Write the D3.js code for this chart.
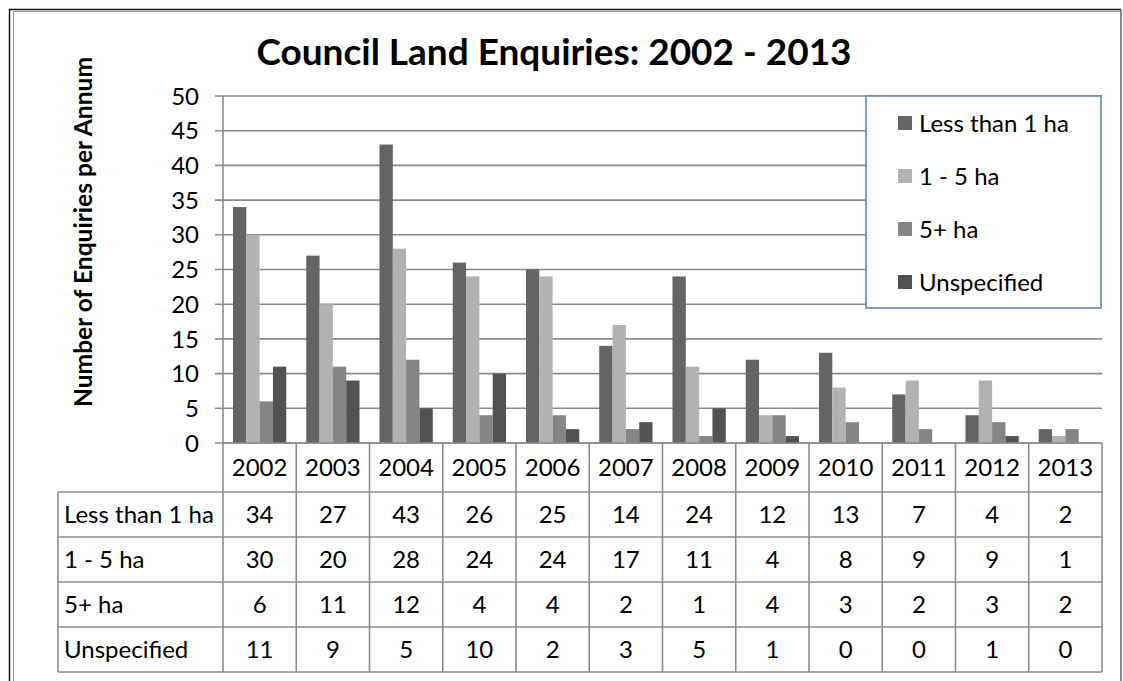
<!DOCTYPE html>
<html>
<head>
<meta charset="utf-8">
<script src="https://cdn.jsdelivr.net/npm/d3@7"></script>
<style>
  html, body { margin: 0; padding: 0; background: #fff; }
  svg { display: block; }
  text { font-family: Lato, "Open Sans", sans-serif; fill: #000; }
</style>
</head>
<body>
<svg id="chart" width="1123" height="681"></svg>
<script>
// Enquiry counts by year and land size
const years = ["2002","2003","2004","2005","2006","2007","2008","2009","2010","2011","2012","2013"];
const seriesNames = ["Less than 1 ha", "1 - 5 ha", "5+ ha", "Unspecified"];
const lessThan1ha = [34, 27, 43, 26, 25, 14, 24, 12, 13, 7, 4, 2];
const oneToFiveHa = [30, 20, 28, 24, 24, 17, 11, 4, 8, 9, 9, 1];
const fivePlusHa  = [6, 11, 12, 4, 4, 2, 1, 4, 3, 2, 3, 2];
const unspecified = [11, 9, 5, 10, 2, 3, 5, 1, 0, 0, 1, 0];
const yTicks = [0, 5, 10, 15, 20, 25, 30, 35, 40, 45, 50];
const seriesColors = ["#646464", "#b2b2b2", "#858585", "#525252"];

const seriesValues = [lessThan1ha, oneToFiveHa, fivePlusHa, unspecified];
const series = seriesNames.map((name, i) => ({ name, values: seriesValues[i], color: seriesColors[i] }));

const svg = d3.select("#chart");
const gridColor = "#8c8c8c";
const fs = "24px";

// Plot geometry
const plot = { left: 223, right: 1102, top: 96, bottom: 443 };
const tableLeft = 58;
const headerBottom = 492;
const rowH = 45;

const x = d3.scaleBand().domain(years).range([plot.left, plot.right]).paddingInner(0).paddingOuter(0);
const bw = x.bandwidth();
const barW = bw / 5.5;            // 150% gap width
const xs = d3.scaleBand().domain(seriesNames).range([barW * 0.75, bw - barW * 0.75]).padding(0);
const y = d3.scaleLinear().domain([0, 50]).range([plot.bottom, plot.top]);

// Outer frame
svg.append("path").attr("d", `M9.5,681 V9.5 H1121`).attr("fill", "none").attr("stroke", "#111").attr("stroke-width", 1.5);
svg.append("path").attr("d", `M13.5,681 V11.5 H1120`).attr("fill", "none").attr("stroke", "#999").attr("stroke-width", 1.2);
svg.append("line").attr("x1", 1121).attr("x2", 1121).attr("y1", 10).attr("y2", 681).attr("stroke", "#8a8a8a").attr("stroke-width", 2);

// Y axis labels
const yAxis = d3.axisLeft(y).tickValues(yTicks).tickSize(0).tickPadding(24);
const gAxis = svg.append("g").attr("transform", `translate(${plot.left},0)`).call(yAxis);
gAxis.select(".domain").remove();
gAxis.selectAll("text").style("font-size", fs).attr("font-family", "Lato, sans-serif").attr("fill", "#000").attr("dy", "0.34em");

// Gridlines with outward ticks
svg.append("g").selectAll("line").data(yTicks).join("line")
  .attr("x1", plot.left - 8).attr("x2", plot.right)
  .attr("y1", d => y(d)).attr("y2", d => y(d))
  .attr("stroke", gridColor).attr("stroke-width", 1.6);

// Vertical axis line
svg.append("line").attr("x1", plot.left).attr("x2", plot.left).attr("y1", plot.top).attr("y2", plot.bottom)
  .attr("stroke", gridColor).attr("stroke-width", 1.6);

// Bars
const groups = svg.append("g").selectAll("g").data(years).join("g")
  .attr("transform", d => `translate(${x(d)},0)`);
groups.selectAll("rect").data((yr, i) => series.map(s => ({ name: s.name, color: s.color, v: s.values[i] })))
  .join("rect")
  .attr("x", d => xs(d.name))
  .attr("width", xs.bandwidth())
  .attr("y", d => y(d.v))
  .attr("height", d => y(0) - y(d.v))
  .attr("fill", d => d.color);

// Data table
const tbl = svg.append("g");
const rowsTop = headerBottom;
const tableBottom = rowsTop + rowH * series.length;
tbl.append("line").attr("x1", plot.left).attr("x2", plot.right).attr("y1", plot.bottom).attr("y2", plot.bottom)
  .attr("stroke", gridColor).attr("stroke-width", 1.6);
for (let r = 0; r <= series.length; r++) {
  tbl.append("line").attr("x1", tableLeft).attr("x2", plot.right)
    .attr("y1", rowsTop + r * rowH).attr("y2", rowsTop + r * rowH)
    .attr("stroke", gridColor).attr("stroke-width", 1.6);
}
tbl.append("line").attr("x1", tableLeft).attr("x2", tableLeft).attr("y1", rowsTop).attr("y2", tableBottom)
  .attr("stroke", gridColor).attr("stroke-width", 1.6);
const colEdges = years.map(d => x(d)).concat([plot.right]);
tbl.selectAll("line.col").data(colEdges).join("line").attr("class", "col")
  .attr("x1", d => d).attr("x2", d => d).attr("y1", plot.bottom).attr("y2", tableBottom)
  .attr("stroke", gridColor).attr("stroke-width", 1.6);

// header (years)
tbl.selectAll("text.yr").data(years).join("text").attr("class", "yr")
  .attr("x", d => x(d) + bw / 2).attr("y", (plot.bottom + headerBottom) / 2)
  .attr("text-anchor", "middle").attr("dy", "0.36em")
  .style("font-size", fs).text(d => d);

// row labels and values
series.forEach((s, r) => {
  const cy = rowsTop + r * rowH + rowH / 2;
  tbl.append("text").attr("x", tableLeft + 6).attr("y", cy).attr("dy", "0.36em")
    .style("font-size", fs).text(s.name);
  tbl.selectAll(`text.v${r}`).data(s.values).join("text").attr("class", `v${r}`)
    .attr("x", (d, i) => x(years[i]) + bw / 2).attr("y", cy).attr("dy", "0.36em")
    .attr("text-anchor", "middle").style("font-size", fs).text(d => d);
});

// Legend
const lg = svg.append("g");
lg.append("rect").attr("x", 866).attr("y", 96).attr("width", 235).attr("height", 212)
  .attr("fill", "#fff").attr("stroke", "#4f81bd").attr("stroke-width", 1.5);
const legendRows = lg.selectAll("g").data(series).join("g")
  .attr("transform", (d, i) => `translate(898,${123 + i * 53})`);
legendRows.append("rect").attr("x", 0).attr("y", -7).attr("width", 14).attr("height", 14).attr("fill", d => d.color);
legendRows.append("text").attr("x", 21).attr("y", 0).attr("dy", "0.36em").style("font-size", fs).text(d => d.name);

// Title
const title = svg.append("text").attr("x", 554).attr("y", 65).attr("text-anchor", "middle")
  .style("font-size", "34px").style("font-weight", "bold").text("Council Land Enquiries: 2002 - 2013");
const tw = title.node().getComputedTextLength();
title.style("font-size", (34 * 595 / tw).toFixed(2) + "px");

// Y axis title
const yTitle = svg.append("text").attr("transform", "translate(92,232) rotate(-90)").attr("text-anchor", "middle")
  .style("font-size", "22px").style("font-weight", "bold").text("Number of Enquiries per Annum");
const yw = yTitle.node().getComputedTextLength();
yTitle.style("font-size", (22 * 350 / yw).toFixed(2) + "px");
</script>
</body>
</html>
